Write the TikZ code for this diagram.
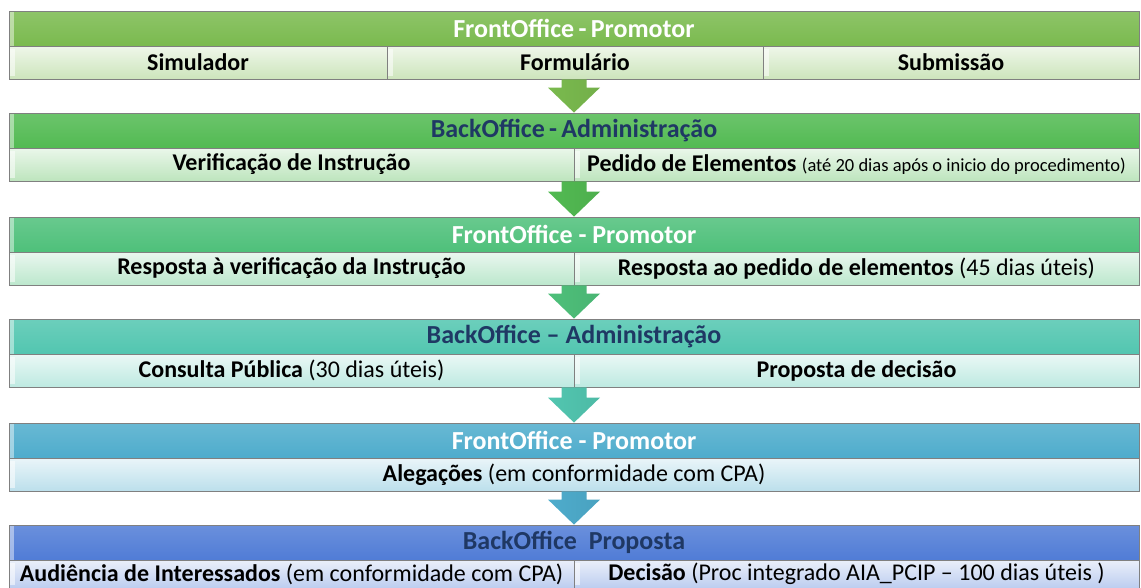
\documentclass[tikz,border=0pt]{standalone}
\usepackage{fontspec}
\setmainfont{Carlito}
\usetikzlibrary{calc}

\definecolor{bandA}{RGB}{122,186,78}
\definecolor{bandB}{RGB}{82,186,82}
\definecolor{bandC}{RGB}{78,192,122}
\definecolor{bandD}{RGB}{82,198,176}
\definecolor{bandE}{RGB}{78,172,204}
\definecolor{bandF}{RGB}{80,124,214}
\definecolor{inkdark}{RGB}{31,56,100}
\definecolor{rimgray}{RGB}{128,128,128}

\tikzset{
  headbar/.style={minimum width=1130, minimum height=35, inner sep=0pt,
    draw=rimgray, line width=0.8pt, font=\fontsize{26}{30}\selectfont\bfseries,
    path picture={\fill[white, opacity=0.45] (path picture bounding box.north west)
      rectangle ([xshift=5pt]path picture bounding box.south west);}},
  bandhead/.style={headbar, top color=#1!85!white, bottom color=#1},
  subcell/.style={minimum height=33, inner sep=0pt, draw=rimgray, line width=0.8pt,
    font=\fontsize{24}{28}\selectfont, top color=#1!12!white, bottom color=#1!38!white,
    path picture={\fill[white, opacity=0.55] ([yshift=-3pt]path picture bounding box.north west)
      rectangle ([xshift=6pt,yshift=3pt]path picture bounding box.south west);}},
  note/.style={font=\fontsize{18.5}{20}\selectfont}
}

% block arrow from a row down to the next header
\newcommand{\bandarrow}[3]{%
  \shade[left color=#3, middle color=#3!40!white, right color=#3!94!black]
    let \p1=(#1.south -| #2.north), \p2=(#2.north) in
    (\x1-12.5pt,\y1) -- (\x1+12.5pt,\y1) -- (\x1+12.5pt,\y2+25pt) -- (\x1+26pt,\y2+25pt)
    -- (\x1,\y2) -- (\x1-26pt,\y2+25pt) -- (\x1-12.5pt,\y2+25pt) -- cycle;}

\begin{document}
\begin{tikzpicture}[x=1pt,y=-1pt]
\useasboundingbox (0,0) rectangle (1141,587);
\clip (0,0) rectangle (1141,587);

% band 1
\node[bandhead=bandA, text=white] at (574,28.5) (h1) {FrontOffice\,-\,Promotor};
\node[subcell=bandA, minimum width=378] at (198,62.5) (s1a) {\textbf{Simulador}};
\node[subcell=bandA, minimum width=376] at (575,62.5) (s1b) {\textbf{Formulário}};
\node[subcell=bandA, minimum width=376] at (951,62.5) (s1c) {\textbf{Submissão}};

% band 2
\node[bandhead=bandB, text=inkdark] at (574,130.5) (h2) {BackOffice\,-\,Administração};
\node[subcell=bandB, minimum width=565] at (291.5,164.5) (s2a) {\textbf{Verificação de Instrução}};
\node[subcell=bandB, minimum width=565] at (856.5,164.5) (s2b)
  {\textbf{Pedido de Elementos} {\fontsize{18.5}{20}\selectfont(até 20 dias após o inicio do procedimento)}};

% band 3
\node[bandhead=bandC, text=white] at (574,234.5) (h3) {FrontOffice - Promotor};
\node[subcell=bandC, minimum width=565] at (291.5,268.5) (s3a) {\textbf{Resposta à verificação da Instrução}};
\node[subcell=bandC, minimum width=565] at (856.5,268.5) (s3b)
  {\textbf{Resposta ao pedido de elementos} (45 dias úteis)};

% band 4
\node[bandhead=bandD, text=inkdark] at (574,336.5) (h4) {BackOffice – Administração};
\node[subcell=bandD, minimum width=565] at (291.5,370.5) (s4a) {\textbf{Consulta Pública} (30 dias úteis)};
\node[subcell=bandD, minimum width=565] at (856.5,370.5) (s4b) {\textbf{Proposta de decisão}};

% band 5
\node[bandhead=bandE, text=white] at (574,440.5) (h5) {FrontOffice - Promotor};
\node[subcell=bandE, minimum width=1130] at (574,474.5) (s5a)
  {\textbf{Alegações} (em conformidade com CPA)};

% band 6
\node[bandhead=bandF, text=inkdark] at (574,542.5) (h6) {BackOffice~ Proposta};
\node[subcell=bandF, minimum width=565, minimum height=28] at (291.5,574) (s6a)
  {\textbf{Audiência de Interessados} (em conformidade com CPA)};
\node[subcell=bandF, minimum width=565, minimum height=28] at (856.5,574) (s6b)
  {\textbf{Decisão} (Proc integrado AIA\_PCIP – 100 dias úteis )};

% arrows
\bandarrow{s1b}{h2}{bandA}
\bandarrow{s2a}{h3}{bandB}
\bandarrow{s3a}{h4}{bandC}
\bandarrow{s4a}{h5}{bandD}
\bandarrow{s5a}{h6}{bandE}
\end{tikzpicture}
\end{document}
